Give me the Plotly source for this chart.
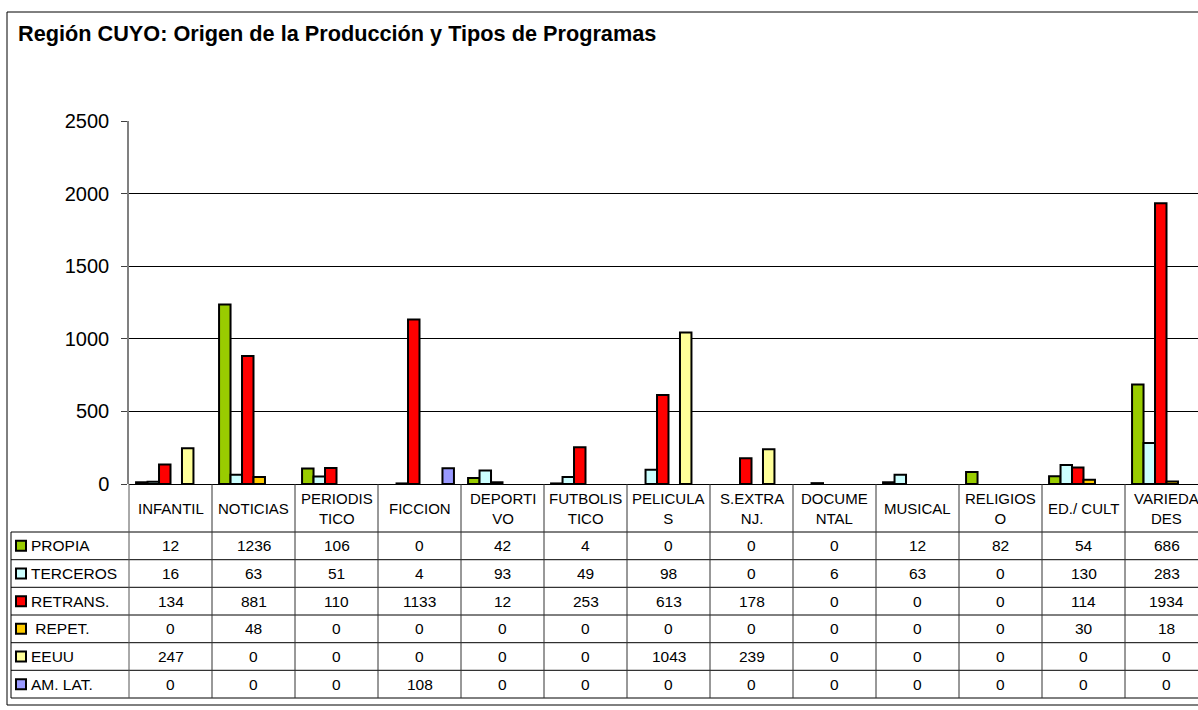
import plotly.graph_objects as go

categories = ['INFANTIL', 'NOTICIAS', 'PERIODISTICO', 'FICCION', 'DEPORTIVO',
              'FUTBOLISTICO', 'PELICULAS', 'S.EXTRANJ.', 'DOCUMENTAL',
              'MUSICAL', 'RELIGIOSO', 'ED./ CULT', 'VARIEDADES']
cat_labels = ['INFANTIL', 'NOTICIAS', 'PERIODIS<br>TICO', 'FICCION', 'DEPORTI<br>VO',
              'FUTBOLIS<br>TICO', 'PELICULA<br>S', 'S.EXTRA<br>NJ.', 'DOCUME<br>NTAL',
              'MUSICAL', 'RELIGIOS<br>O', 'ED./ CULT', 'VARIEDA<br>DES']

series = ['PROPIA', 'TERCEROS', 'RETRANS.', ' REPET.', 'EEUU', 'AM. LAT.']
propia = [12, 1236, 106, 0, 42, 4, 0, 0, 0, 12, 82, 54, 686]
terceros = [16, 63, 51, 4, 93, 49, 98, 0, 6, 63, 0, 130, 283]
retrans = [134, 881, 110, 1133, 12, 253, 613, 178, 0, 0, 0, 114, 1934]
repet = [0, 48, 0, 0, 0, 0, 0, 0, 0, 0, 0, 30, 18]
eeuu = [247, 0, 0, 0, 0, 0, 1043, 239, 0, 0, 0, 0, 0]
amlat = [0, 0, 0, 108, 0, 0, 0, 0, 0, 0, 0, 0, 0]
values = [propia, terceros, retrans, repet, eeuu, amlat]
colors = ['#99CC00', '#CCFFFF', '#FF0000', '#FFCC00', '#FFFF99', '#9999FF']

y_ticks = [0, 500, 1000, 1500, 2000, 2500]

W, H = 1198, 710
L, T, B = 129, 121, 484  # plot area in pixels
FONT = 'Liberation Sans, Arial, sans-serif'


def px(xp):
    return (xp - L) / (W - L)


def py(yp):
    return (B - yp) / (B - T)


fig = go.Figure()
for name, vals, col in zip(series, values, colors):
    # Excel leaves zero values undrawn
    fig.add_trace(go.Bar(x=categories, y=[v if v else None for v in vals], name=name.strip(),
                         marker=dict(color=col, line=dict(color='black', width=2))))

# table rows (pixel y of row edges)
row_edges = [532, 559.7, 587.3, 615, 642.7, 670.3, 698]
shapes = []
annotations = []

# outer frame
shapes.append(dict(type='rect', xref='paper', yref='paper', x0=px(7), x1=px(1210),
                   y0=py(12), y1=py(705), line=dict(color='black', width=1)))

for ye in row_edges:
    shapes.append(dict(type='line', xref='paper', yref='paper', x0=px(11), x1=px(1210),
                       y0=py(ye), y1=py(ye), line=dict(color='black', width=1)))
shapes.append(dict(type='line', xref='paper', yref='paper', x0=px(11), x1=px(11),
                   y0=py(row_edges[0]), y1=py(row_edges[-1]), line=dict(color='black', width=1)))
shapes.append(dict(type='line', xref='paper', yref='paper', x0=0, x1=0,
                   y0=0, y1=py(row_edges[-1]), line=dict(color='#555555', width=1)))
for i in range(1, len(categories)):
    shapes.append(dict(type='line', xref='x', yref='paper', x0=i - 0.5, x1=i - 0.5,
                       y0=0, y1=py(row_edges[-1]), line=dict(color='#333333', width=1)))

# category labels
for cat, lab in zip(categories, cat_labels):
    annotations.append(dict(x=cat, y=py((B + row_edges[0]) / 2), xref='x', yref='paper',
                            text=lab, showarrow=False, font=dict(size=15, color='black'),
                            xanchor='center', yanchor='middle'))

# table rows
for r, (name, vals, col) in enumerate(zip(series, values, colors)):
    yc = (row_edges[r] + row_edges[r + 1]) / 2
    shapes.append(dict(type='rect', xref='paper', yref='paper', x0=px(16), x1=px(26),
                       y0=py(yc - 5), y1=py(yc + 5), fillcolor=col,
                       line=dict(color='black', width=2)))
    annotations.append(dict(x=px(29), y=py(yc), xref='paper', yref='paper',
                            text=name.replace(' ', '\u00a0'), showarrow=False,
                            font=dict(size=15.5, color='black'),
                            xanchor='left', yanchor='middle'))
    for cat, v in zip(categories, vals):
        annotations.append(dict(x=cat, y=py(yc), xref='x', yref='paper', text=str(v),
                                showarrow=False, font=dict(size=15.5, color='black'),
                                xanchor='center', yanchor='middle'))

# title
annotations.append(dict(x=px(16), y=py(34), xref='paper', yref='paper',
                        text='<b>Región CUYO: Origen de la Producción y Tipos de Programas</b>',
                        showarrow=False, font=dict(size=21.7, color='black'),
                        xanchor='left', yanchor='middle'))

fig.update_layout(
    width=W, height=H,
    margin=dict(l=L, r=0, t=T, b=H - B, pad=0),
    paper_bgcolor='white', plot_bgcolor='white',
    font=dict(family=FONT, color='black'),
    barmode='group', bargap=0.17, bargroupgap=0,
    showlegend=False,
    shapes=shapes, annotations=annotations,
    xaxis=dict(type='category', range=[-0.5, len(categories) - 0.5 - 10 / 83],
               showticklabels=False, showgrid=False, zeroline=False,
               showline=False, ticks=''),
    yaxis=dict(range=[0, 2500], tickvals=y_ticks, showgrid=True, gridcolor='black',
               gridwidth=1, zeroline=True, zerolinecolor='black', zerolinewidth=1,
               showline=True, linecolor='#808080', linewidth=1.5,
               ticks='outside', ticklen=6, tickcolor='#404040',
               tickfont=dict(size=20, color='black'), ticklabelstandoff=8),
)

fig.write_html('out.html', config={'displayModeBar': False},
               post_script="document.body.style.margin='0';document.body.style.overflow='hidden';")
